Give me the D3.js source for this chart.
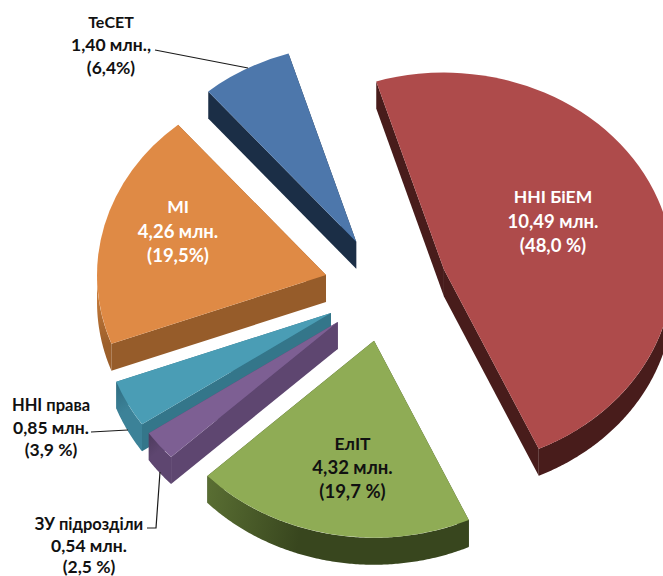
<!DOCTYPE html>
<html><head><meta charset="utf-8">
<style>html,body{margin:0;padding:0;background:#fff}svg{display:block}</style>
<script src="https://cdn.jsdelivr.net/npm/d3@7/dist/d3.min.js"></script>
</head><body><svg id="c" width="663" height="576"></svg>
<script>
// ---- data, clockwise from the first slice ----
const names   = ["ННІ БіЕМ", "ЕлІТ", "ЗУ підрозділи", "ННІ права", "МІ", "ТеСЕТ"];
const valuesMln = [10.49, 4.32, 0.54, 0.85, 4.26, 1.40];
const amountLabels = ["10,49 млн.", "4,32 млн.", "0,54 млн.", "0,85 млн.", "4,26 млн.", "1,40 млн.,"];
const shareLabels  = ["(48,0 %)", "(19,7 %)", "(2,5 %)", "(3,9 %)", "(19,5%)", "(6,4%)"];

// ---- styles ----
const topColors  = ["#AE4B4B", "#8FAC55", "#7D5F93", "#4A9DB5", "#DF8A45", "#4D77AB"];
const sideColors = ["#481C1B", "#3A4820", "#5E4670", "#34768A", "#965C2A", "#1B2E46"];
const rimColors  = [["#481C1B","#481C1B"],["#5A6F33","#38461E"],["#4C3A5C","#5E4670"],["#2F6C80","#3C8298"],["#D5843F","#9C5F2B"],["#1B2E46","#1B2E46"]];
const rimStops   = [0.6, 0.38, 0.6, 0.6, 1, 0.6];
const textColors = ["#fff", "#111", "#111", "#111", "#fff", "#111"];
const nameSizes  = [17.5, 17.5, 16.5, 16.5, 17.5, 16];
const valueSizes = [18.5, 18.5, 17.5, 17.5, 18.5, 17.5];

// ---- layout ----
const W = 663, H = 576;
const cx = 386, cy = 288.5, R = 229, tilt = 0.86, depth = 27, explode = 62;
const startDeg = -17.2;
const labelCenters = [[553,197],[352.5,444],[89,524],[51,405],[178,207],[111,22]];
const lineSteps = [24.2, 24, 21.5, 22.5, 24.5, 23];
const leaders = [
  [[155,50],[248,68]],
  [[91,432],[128,430]],
  [[147,528],[156,528],[160,472]]
];

const svg = d3.select("#c");
const defs = svg.append("defs");
const rad = d => d * Math.PI / 180;

const pie = d3.pie().sort(null).value(d => d)
  .startAngle(rad(startDeg)).endAngle(rad(startDeg + 360));
const slices = pie(valuesMln).map((s, i) => {
  const mid = (s.startAngle + s.endAngle) / 2;
  return {...s, i, mid,
    ox: cx + explode * Math.sin(mid),
    oy: cy - explode * tilt * Math.cos(mid)};
});

const arc = d3.arc().innerRadius(0).outerRadius(R);
const pt = (s, a, r = R, dz = 0) => [s.ox + r * Math.sin(a), s.oy - r * tilt * Math.cos(a) + dz];
const line = d3.line();

// back-to-front
const order = slices.slice().sort((a, b) => Math.cos(b.mid) - Math.cos(a.mid));

order.forEach(s => {
  const g = svg.append("g");
  // radial walls
  const apex = pt(s, 0, 0), apexD = pt(s, 0, 0, depth);
  [s.startAngle, s.endAngle]
    .sort((a, b) => pt(s, a)[1] - pt(s, b)[1])
    .forEach(a => {
      g.append("path")
        .attr("d", line([apex, pt(s, a), pt(s, a, R, depth), apexD]) + "Z")
        .attr("fill", sideColors[s.i]);
    });
  // outer wall: the part of the rim turned to the viewer
  const a0 = Math.max(s.startAngle, rad(90)), a1 = Math.min(s.endAngle, rad(270));
  if (a1 > a0) {
    const steps = d3.range(a0, a1, rad(0.5)).concat([a1]);
    const upper = steps.map(a => pt(s, a));
    const lower = steps.map(a => pt(s, a, R, depth)).reverse();
    const id = "rim" + s.i;
    const gr = defs.append("linearGradient").attr("id", id)
      .attr("gradientUnits", "userSpaceOnUse")
      .attr("x1", upper[upper.length - 1][0]).attr("y1", upper[upper.length - 1][1])
      .attr("x2", upper[0][0]).attr("y2", upper[0][1]);
    gr.append("stop").attr("offset", 0).attr("stop-color", rimColors[s.i][0]);
    gr.append("stop").attr("offset", rimStops[s.i]).attr("stop-color", rimColors[s.i][1]);
    gr.append("stop").attr("offset", 1).attr("stop-color", rimColors[s.i][1]);
    g.append("path").attr("d", line(upper.concat(lower)) + "Z").attr("fill", `url(#${id})`);
  }
  // top face
  g.append("path")
    .attr("transform", `translate(${s.ox},${s.oy}) scale(1,${tilt})`)
    .attr("d", arc({startAngle: s.startAngle, endAngle: s.endAngle}))
    .attr("fill", topColors[s.i]);
});

// leader lines
svg.append("g").selectAll("path").data(leaders).join("path")
  .attr("d", d => line(d)).attr("fill", "none").attr("stroke", "#1a1a1a").attr("stroke-width", 1.2);

// labels
slices.forEach(s => {
  const [x, y] = labelCenters[s.i];
  const t = svg.append("text")
    .attr("text-anchor", "middle")
    .attr("font-family", "Lato, 'Open Sans', 'Noto Sans', sans-serif")
    .attr("font-weight", 700)
    .attr("fill", textColors[s.i]);
  [names[s.i], amountLabels[s.i], shareLabels[s.i]].forEach((txt, k) => {
    t.append("tspan").attr("x", x).attr("y", y + k * lineSteps[s.i]).attr("dy", "0.35em")
      .attr("font-size", k === 0 ? nameSizes[s.i] : valueSizes[s.i]).text(txt);
  });
});
</script></body></html>
